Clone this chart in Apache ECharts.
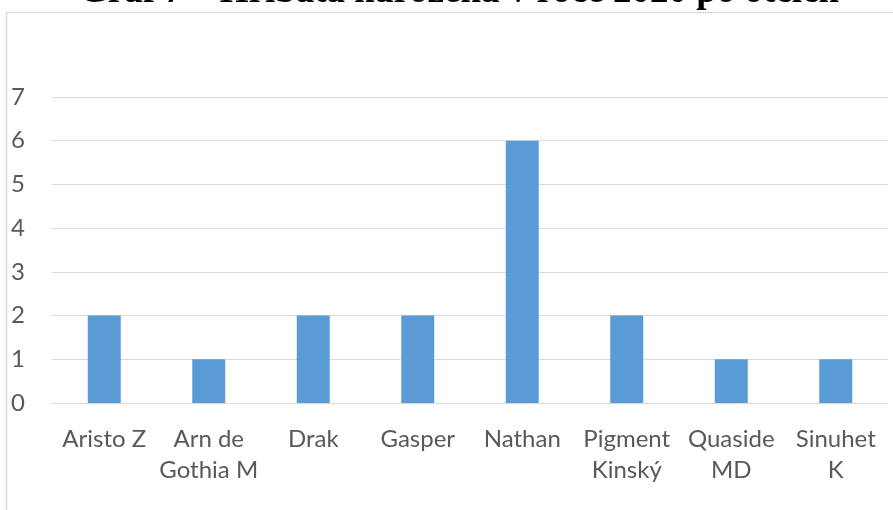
<!DOCTYPE html>
<html><head><meta charset="utf-8">
<script src="https://cdn.jsdelivr.net/npm/echarts@6/dist/echarts.min.js"></script>
<style>html,body{margin:0;padding:0;background:#fff}#c{width:893px;height:510px}</style>
</head><body><div id="c"></div>
<script>
const titleText = 'Graf 7 – Hříbata narozená v roce 2020 po otcích';
const categories = ['Aristo Z', 'Arn de\nGothia M', 'Drak', 'Gasper', 'Nathan', 'Pigment\nKinský', 'Quaside\nMD', 'Sinuhet\nK'];
const values = [2, 1, 2, 2, 6, 2, 1, 1];
const yTicks = [0, 1, 2, 3, 4, 5, 6, 7];

const chart = echarts.init(document.getElementById('c'));
chart.setOption({
  animation: false,
  graphic: [
    {type: 'rect', shape: {x: 6.5, y: 12.5, width: 900, height: 510}, style: {fill: 'none', stroke: '#d9d9d9', lineWidth: 1.5}},
    {type: 'text', x: 459, y: 11, style: {text: titleText, font: 'bold 37px "Liberation Serif"', fill: '#000', align: 'center', verticalAlign: 'bottom'}}
  ],
  grid: {left: 52, right: 5, top: 97, bottom: 107, containLabel: false},
  xAxis: {
    type: 'category', data: categories,
    axisLine: {show: true, lineStyle: {color: '#d9d9d9'}},
    axisTick: {show: false},
    axisLabel: {color: '#595959', fontFamily: 'Lato', fontSize: 24, lineHeight: 31, margin: 21, interval: 0}
  },
  yAxis: {
    type: 'value', min: 0, max: yTicks[yTicks.length - 1], interval: 1,
    axisLine: {show: false}, axisTick: {show: false},
    splitLine: {lineStyle: {color: '#d9d9d9'}},
    axisLabel: {color: '#595959', fontFamily: 'Lato', fontSize: 24, margin: 27}
  },
  series: [{type: 'bar', data: values, barWidth: 33, itemStyle: {color: '#5b9bd5'}}]
});
</script></body></html>
